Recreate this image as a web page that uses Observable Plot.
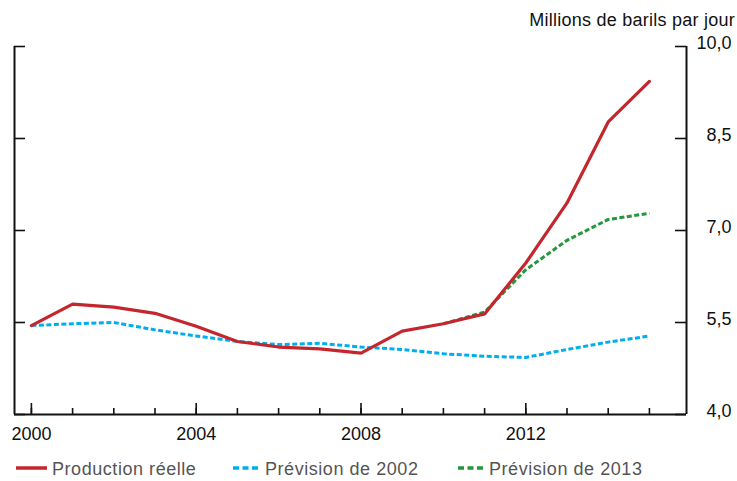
<!DOCTYPE html>
<html><head><meta charset="utf-8">
<script src="https://cdn.jsdelivr.net/npm/d3@7"></script>
<script src="https://cdn.jsdelivr.net/npm/@observablehq/plot@0.6"></script>
<style>
body{margin:0;background:#fff;font-family:"Liberation Sans",Arial,Helvetica,sans-serif;}
#wrap{position:relative;width:737px;height:481px;overflow:hidden;}
#unit{position:absolute;right:2px;top:11px;font-size:18px;line-height:18px;color:#111;letter-spacing:0.25px;white-space:nowrap;}
#chart{position:absolute;left:0;top:0;}
.leg{position:absolute;top:460px;font-size:18px;line-height:18px;color:#555;letter-spacing:0.55px;white-space:nowrap;}
.sw{position:absolute;top:464px;}
</style>
</head><body>
<div id="wrap">
  <div id="chart"></div>
  <div id="unit">Millions de barils par jour</div>
  <div id="legend"></div>
</div>
<script>
const years = [2000,2001,2002,2003,2004,2005,2006,2007,2008,2009,2010,2011,2012,2013,2014,2015];
const production = [5.45,5.80,5.75,5.65,5.44,5.19,5.10,5.07,5.00,5.36,5.48,5.64,6.47,7.45,8.77,9.43];
const prev2002 = [5.45,5.48,5.50,5.38,5.28,5.19,5.14,5.16,5.10,5.06,4.99,4.95,4.93,5.06,5.18,5.28];
const prev2013Years = [2010,2011,2012,2013,2014,2015];
const prev2013 = [5.48,5.67,6.36,6.84,7.18,7.28];
const majorYears = [2000,2004,2008,2012];
const yTicks = [4,5.5,7,8.5,10];
const seriesNames = ["Production réelle","Prévision de 2002","Prévision de 2013"];
const colors = ["#c4262e","#00aeef","#23983c"];

const xDomain = [1999.59, 2015.9];
const yDomain = [4, 10];

const W = 737, H = 446, mT = 46, mB = 32, mL = 14, mR = 51;
const frameW = W - mL - mR, frameH = H - mT - mB;

const prodData = years.map((y,i)=>({year:y, v:production[i]}));
const p02Data = years.map((y,i)=>({year:y, v:prev2002[i]}));
const p13Data = prev2013Years.map((y,i)=>({year:y, v:prev2013[i]}));

const chart = Plot.plot({
  width: W, height: H,
  marginTop: mT, marginBottom: mB, marginLeft: mL, marginRight: mR,
  style: {fontSize: "18px", fontFamily: "'Liberation Sans', Arial, sans-serif", color: "#111", background: "#fff"},
  x: {domain: xDomain},
  y: {domain: yDomain},
  marks: [
    Plot.ruleY([yDomain[0]], {stroke: "#111", strokeWidth: 2}),
    Plot.ruleX(xDomain, {y1: yDomain[0], y2: yDomain[1], stroke: "#111", strokeWidth: 2}),
    Plot.tickY(yTicks, {y: d=>d, insetRight: frameW - 11, stroke: "#111", strokeWidth: 1.6}),
    Plot.tickY(yTicks, {y: d=>d, insetLeft: frameW - 11, stroke: "#111", strokeWidth: 1.6}),
    Plot.tickX(years, {x: d=>d, insetTop: frameH - 6, stroke: "#111", strokeWidth: 1.6}),
    Plot.tickX(majorYears, {x: d=>d, insetTop: frameH - 11, stroke: "#111", strokeWidth: 1.6}),
    Plot.axisX({ticks: majorYears, tickFormat: d=>String(d), tickSize: 0, tickPadding: 13, label: null, fill: "#111"}),
    Plot.axisY({anchor: "right", ticks: yTicks, tickFormat: d=>d.toFixed(1).replace(".", ","), tickSize: 0, tickPadding: 45, textAnchor: "end", dy: -3, label: null, fill: "#111"}),
    Plot.line(p02Data, {x: "year", y: "v", stroke: colors[1], strokeWidth: 3, strokeDasharray: "5,2.5", strokeLinecap: "butt"}),
    Plot.line(p13Data, {x: "year", y: "v", stroke: colors[2], strokeWidth: 3, strokeDasharray: "5,2.5", strokeLinecap: "butt"}),
    Plot.line(prodData, {x: "year", y: "v", stroke: colors[0], strokeWidth: 3.2, strokeLinejoin: "miter"})
  ]
});
document.getElementById("chart").appendChild(chart);

const legend = document.getElementById("legend");
const legPos = [{sw:16, tx:52, dash:null, w:31},{sw:233, tx:265, dash:"6,3.5", w:25},{sw:458, tx:489, dash:"6,3.5", w:25}];
seriesNames.forEach((name,i)=>{
  const p = legPos[i];
  const svgNS = "http://www.w3.org/2000/svg";
  const s = document.createElementNS(svgNS, "svg");
  s.setAttribute("width", p.w); s.setAttribute("height", 8);
  s.setAttribute("class", "sw");
  s.style.left = p.sw + "px";
  const l = document.createElementNS(svgNS, "line");
  l.setAttribute("x1", 0); l.setAttribute("x2", p.w);
  l.setAttribute("y1", 4); l.setAttribute("y2", 4);
  l.setAttribute("stroke", colors[i]); l.setAttribute("stroke-width", 3.5);
  if (p.dash) l.setAttribute("stroke-dasharray", p.dash);
  s.appendChild(l);
  legend.appendChild(s);
  const t = document.createElement("div");
  t.className = "leg"; t.style.left = p.tx + "px"; t.textContent = name;
  legend.appendChild(t);
});
</script>
</body></html>
